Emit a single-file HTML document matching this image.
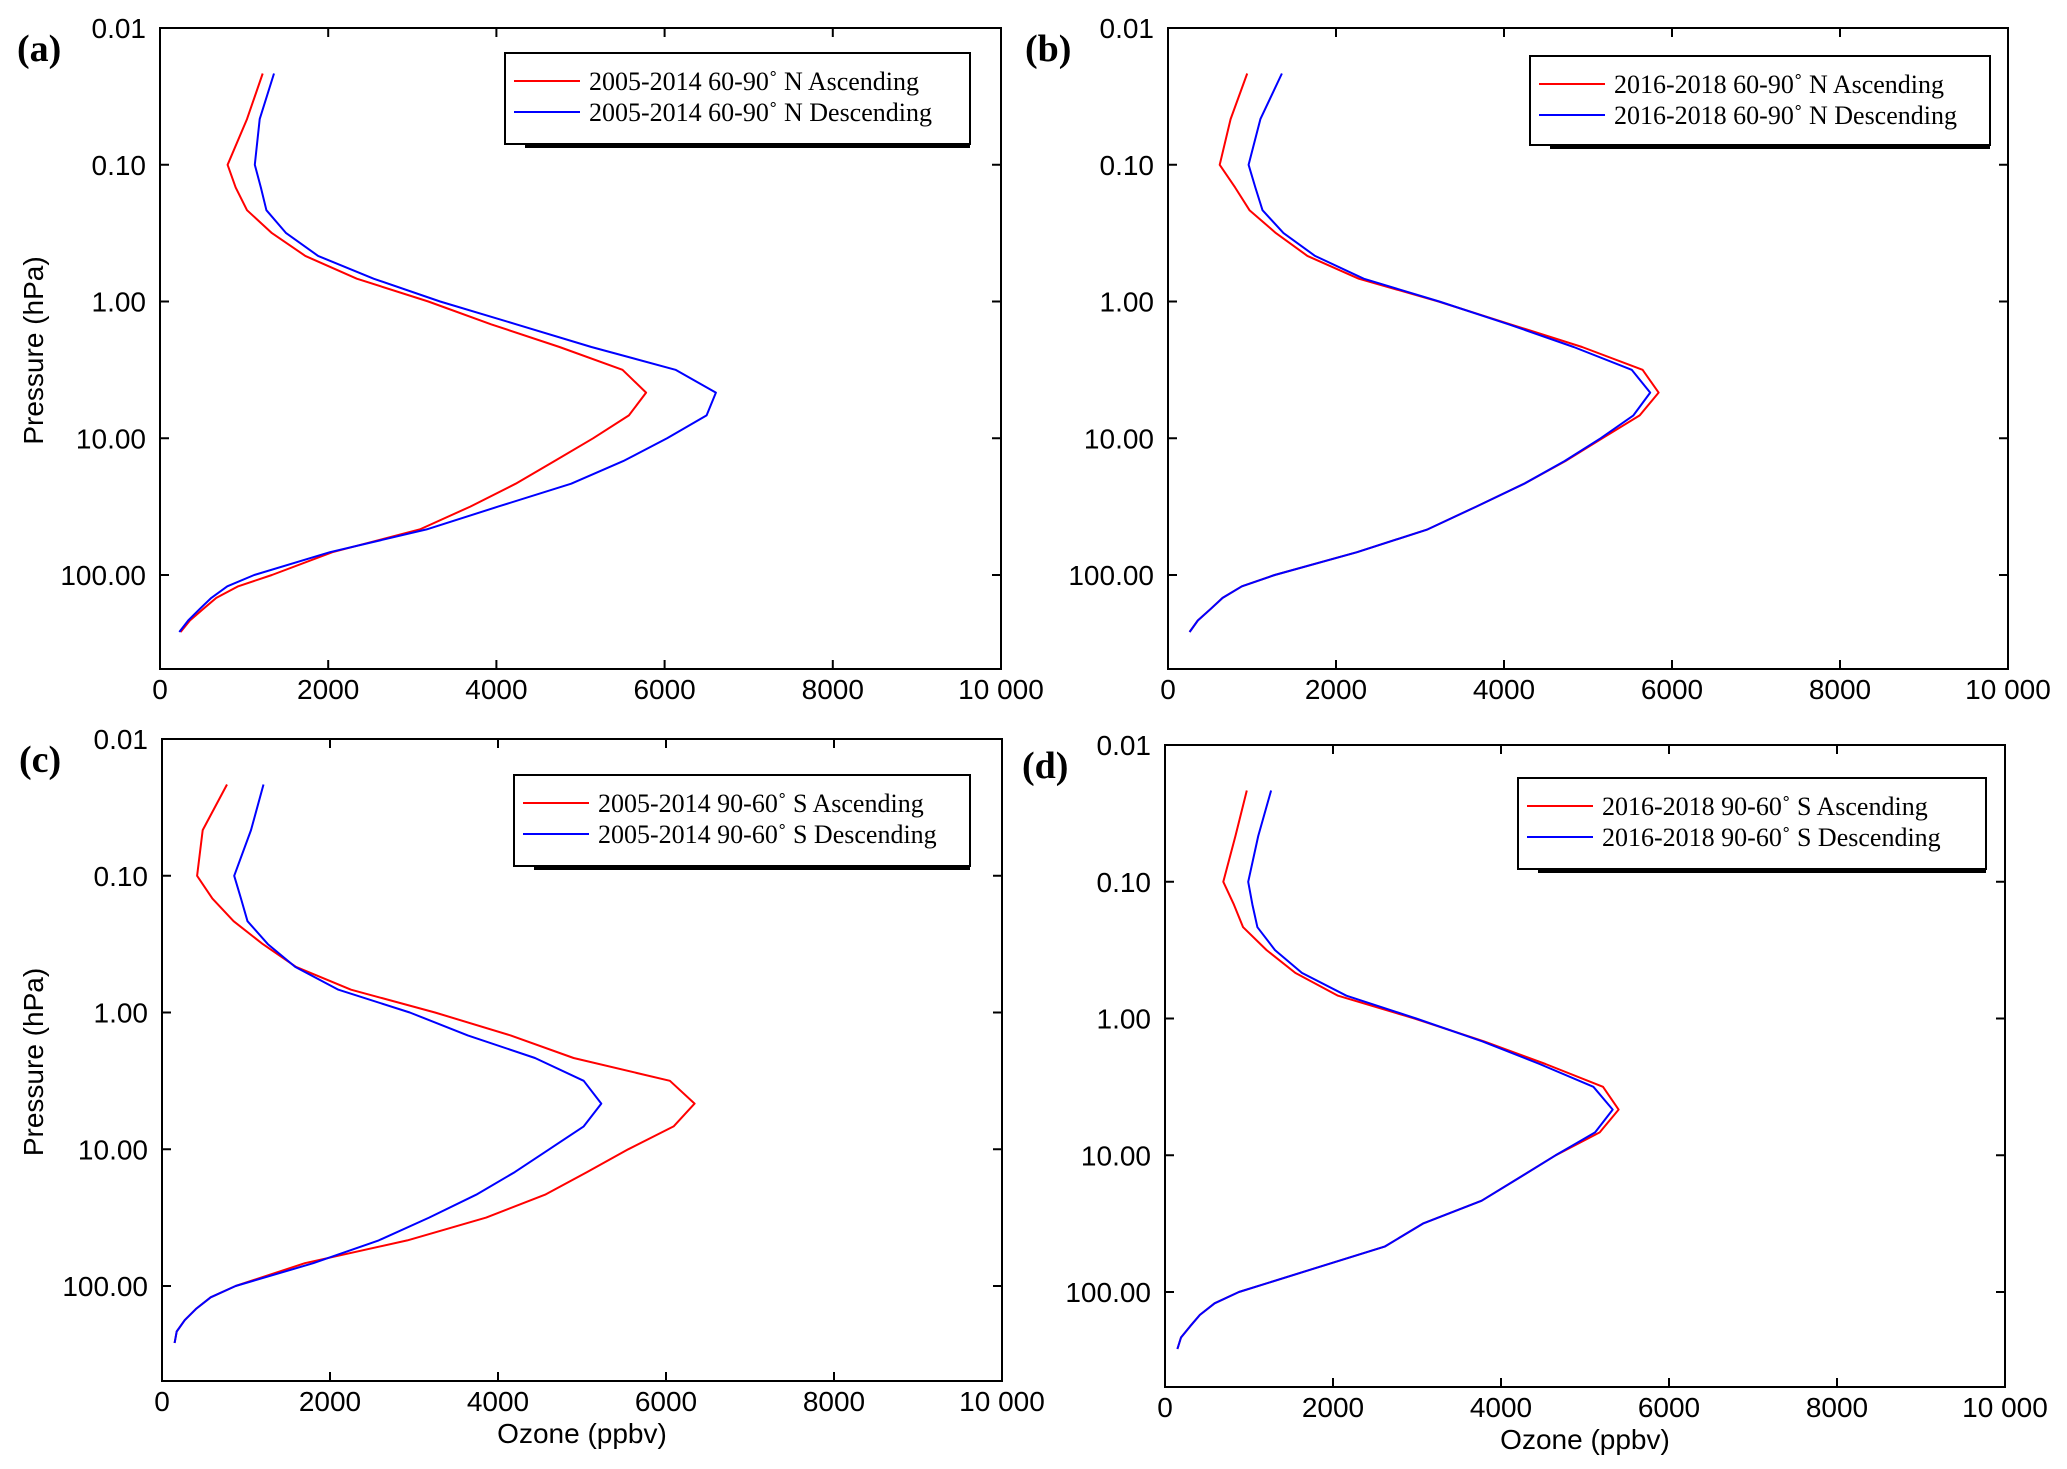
<!DOCTYPE html>
<html><head><meta charset="utf-8">
<style>
html,body{margin:0;padding:0;background:#fff;}
#wrap{position:relative;width:2067px;height:1469px;overflow:hidden;background:#fff;}
svg{position:absolute;left:0;top:0;}
</style></head>
<body>
<div id="wrap">
<svg id="chart" width="2067" height="1469" viewBox="0 0 2067 1469" xmlns="http://www.w3.org/2000/svg"></svg>
</div>
<script>
const pressureLevels = [0.0215,0.0464,0.1,0.147,0.215,0.316,0.464,0.681,1,1.47,2.15,3.16,4.64,6.81,10,14.7,21.5,31.6,46.4,68.1,100,121,147,178,215,261];
const aAsc  = [1221,1035,804,900,1035,1330,1728,2340,3190,3940,4750,5500,5780,5575,5150,4690,4230,3690,3090,2050,1330,930,670,510,355,245];
const aDesc = [1355,1185,1127,1200,1265,1500,1880,2540,3330,4240,5130,6130,6610,6500,6030,5508,4890,4020,3170,2020,1120,800,610,470,335,230];
const bAsc  = [943,745,616,800,970,1285,1660,2270,3220,4080,4930,5650,5840,5615,5170,4730,4240,3670,3090,2250,1270,880,650,505,355,257];
const bDesc = [1356,1100,959,1040,1125,1375,1750,2330,3230,4060,4830,5520,5740,5540,5150,4720,4240,3670,3090,2250,1270,880,650,505,355,257];
const cAsc  = [774,485,418,600,852,1200,1596,2250,3250,4150,4900,6046,6340,6090,5550,5060,4560,3860,2920,1700,876,580,405,270,175,150];
const cDesc = [1208,1060,860,940,1018,1260,1586,2100,2950,3640,4440,5020,5230,5020,4610,4200,3740,3180,2580,1800,876,580,405,270,175,150];
const dAsc  = [974,838,694,820,930,1210,1551,2060,2970,3800,4530,5214,5400,5175,4650,4210,3770,3070,2620,1750,880,590,415,300,190,148];
const dDesc = [1263,1110,990,1040,1100,1310,1630,2160,2990,3780,4460,5100,5330,5120,4650,4210,3770,3070,2620,1750,880,590,415,300,190,148];
const xTicks = [0,2000,4000,6000,8000,10000];
const xTickLabels = ["0","2000","4000","6000","8000","10 000"];
const yTicks = [0.01,0.1,1,10,100];
const yTickLabels = ["0.01","0.10","1.00","10.00","100.00"];
const legendA = ["2005-2014 60-90\u02da N Ascending","2005-2014 60-90\u02da N Descending"];
const legendB = ["2016-2018 60-90\u02da N Ascending","2016-2018 60-90\u02da N Descending"];
const legendC = ["2005-2014 90-60\u02da S  Ascending","2005-2014 90-60\u02da S  Descending"];
const legendD = ["2016-2018 90-60\u02da S  Ascending","2016-2018 90-60\u02da S  Descending"];

const panels = [
 {id:'a', x0:160, x1:1001, top:28, p100:575, bottom:669, asc:aAsc, desc:aDesc, leg:legendA, lg:[505,53,970,144], ylab:true, xlab:false},
 {id:'b', x0:1168, x1:2008, top:28, p100:575, bottom:669, asc:bAsc, desc:bDesc, leg:legendB, lg:[1530,56,1990,145], ylab:false, xlab:false},
 {id:'c', x0:162, x1:1002, top:739, p100:1286, bottom:1381, asc:cAsc, desc:cDesc, leg:legendC, lg:[514,775,970,866], ylab:true, xlab:true},
 {id:'d', x0:1165, x1:2005, top:745, p100:1292, bottom:1387, asc:dAsc, desc:dDesc, leg:legendD, lg:[1518,778,1986,869], ylab:false, xlab:true}
];
const NS='http://www.w3.org/2000/svg';
const svg=document.getElementById('chart');
function mk(tag, attrs, parent){const e=document.createElementNS(NS,tag);for(const k in attrs)e.setAttribute(k,attrs[k]);(parent||svg).appendChild(e);return e;}
const SANS='"Liberation Sans Narrow","Liberation Sans",sans-serif';
const SERIF='"Liberation Serif",serif';

panels.forEach(P=>{
  const g=mk('g',{});
  
  
  const dec=(P.p100-P.top)/4;
  const xs=v=>P.x0+(v/10000)*(P.x1-P.x0);
  const ys=p=>P.top+(Math.log10(p)+2)*dec;
  // frame
  const fr=mk('rect',{x:P.x0,y:P.top,width:P.x1-P.x0,height:P.bottom-P.top,fill:'none',stroke:'#000','stroke-width':2},g);
  
  
  // x ticks
  xTicks.forEach((t,i)=>{
    const x=xs(t);
    mk('line',{x1:x,y1:P.bottom,x2:x,y2:P.bottom-9,stroke:'#000','stroke-width':2},g);
    mk('line',{x1:x,y1:P.top,x2:x,y2:P.top+9,stroke:'#000','stroke-width':2},g);
    const tx=mk('text',{x:x,y:P.bottom+30,'font-family':SANS,'font-size':28,'text-anchor':'middle',fill:'#000'},g);
    tx.textContent=xTickLabels[i];
    
    
  });
  yTicks.forEach((t,i)=>{
    const y=ys(t);
    mk('line',{x1:P.x0,y1:y,x2:P.x0+9,y2:y,stroke:'#000','stroke-width':2},g);
    mk('line',{x1:P.x1,y1:y,x2:P.x1-9,y2:y,stroke:'#000','stroke-width':2},g);
    const tx=mk('text',{x:P.x0-14,y:y+10,'font-family':SANS,'font-size':28,'text-anchor':'end',fill:'#000'},g);
    tx.textContent=yTickLabels[i];
    
    
  });
  // series
  [[P.asc,'#ff0000','ascending'],[P.desc,'#0000ff','descending']].forEach(([vals,col,nm])=>{
    const pts=vals.map((v,i)=>xs(v).toFixed(1)+','+ys(pressureLevels[i]).toFixed(1)).join(' ');
    const pl=mk('polyline',{points:pts,fill:'none',stroke:col,'stroke-width':2,'stroke-linejoin':'round'},g);
    
    
  });
  // legend
  const [lx0,ly0,lx1,ly1]=P.lg;
  const lgG=mk('g',{},g);
  
  
  mk('rect',{x:lx0+20,y:ly1-1,width:lx1-lx0-20,height:5,fill:'#000'},lgG);
  mk('rect',{x:lx0,y:ly0,width:lx1-lx0,height:ly1-ly0,fill:'#fff',stroke:'#000','stroke-width':2},lgG);
  [['#ff0000',0],['#0000ff',1]].forEach(([col,k])=>{
    const yy=ly0+28+k*31;
    mk('line',{x1:lx0+9,y1:yy,x2:lx0+75,y2:yy,stroke:col,'stroke-width':2},lgG);
    const tx=mk('text',{x:lx0+84,y:yy+9,'font-family':SERIF,'font-size':26,fill:'#000'},lgG);
    tx.textContent=P.leg[k];
    
    
  });
  // panel label
  const pl=mk('text',{x:P.x0-143,y:P.top+33,'font-family':SERIF,'font-size':38,'font-weight':'bold',fill:'#000'},g);
  pl.textContent='('+P.id+')';
  
  
  if(P.ylab){
    const cy=(P.top+P.bottom)/2;
    const t=mk('text',{x:0,y:0,'font-family':SANS,'font-size':28,'text-anchor':'middle',fill:'#000',transform:'translate(43,'+(cy+2)+') rotate(-90)'},g);
    t.textContent='Pressure (hPa)';
    
    
  }
  if(P.xlab){
    const t=mk('text',{x:(P.x0+P.x1)/2,y:P.bottom+62,'font-family':SANS,'font-size':28,'text-anchor':'middle',fill:'#000'},g);
    t.textContent='Ozone (ppbv)';
    
    
  }
});
</script>
</body></html>
